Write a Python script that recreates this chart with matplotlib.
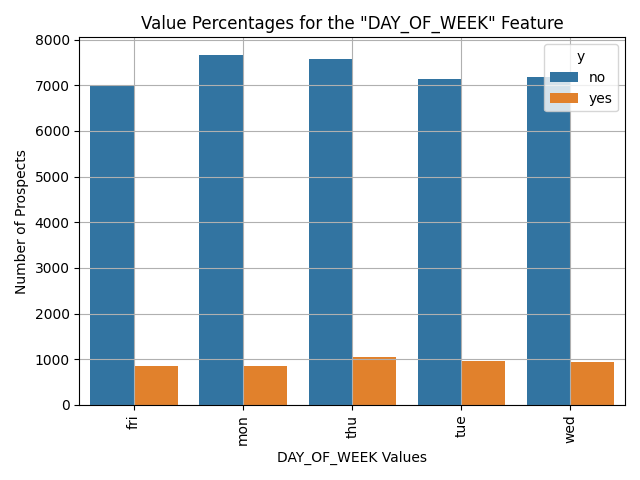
import pandas as pd
import seaborn as sns
import matplotlib
matplotlib.use("Agg")
import matplotlib.pyplot as plt

days = ["fri", "mon", "thu", "tue", "wed"]
count_no = [6981, 7667, 7578, 7137, 7185]
count_yes = [846, 847, 1045, 953, 949]

df = pd.DataFrame({
    "day_of_week": days * 2,
    "y": ["no"] * len(days) + ["yes"] * len(days),
    "count": count_no + count_yes,
})

fig, ax = plt.subplots(figsize=(6.4, 4.8), dpi=100)
sns.barplot(data=df, x="day_of_week", y="count", hue="y", order=days, ax=ax)
ax.set_title('Value Percentages for the "DAY_OF_WEEK" Feature')
ax.set_xlabel("DAY_OF_WEEK Values")
ax.set_ylabel("Number of Prospects")
plt.xticks(rotation=90)
ax.grid(True)
plt.tight_layout()
plt.savefig("out.png")
